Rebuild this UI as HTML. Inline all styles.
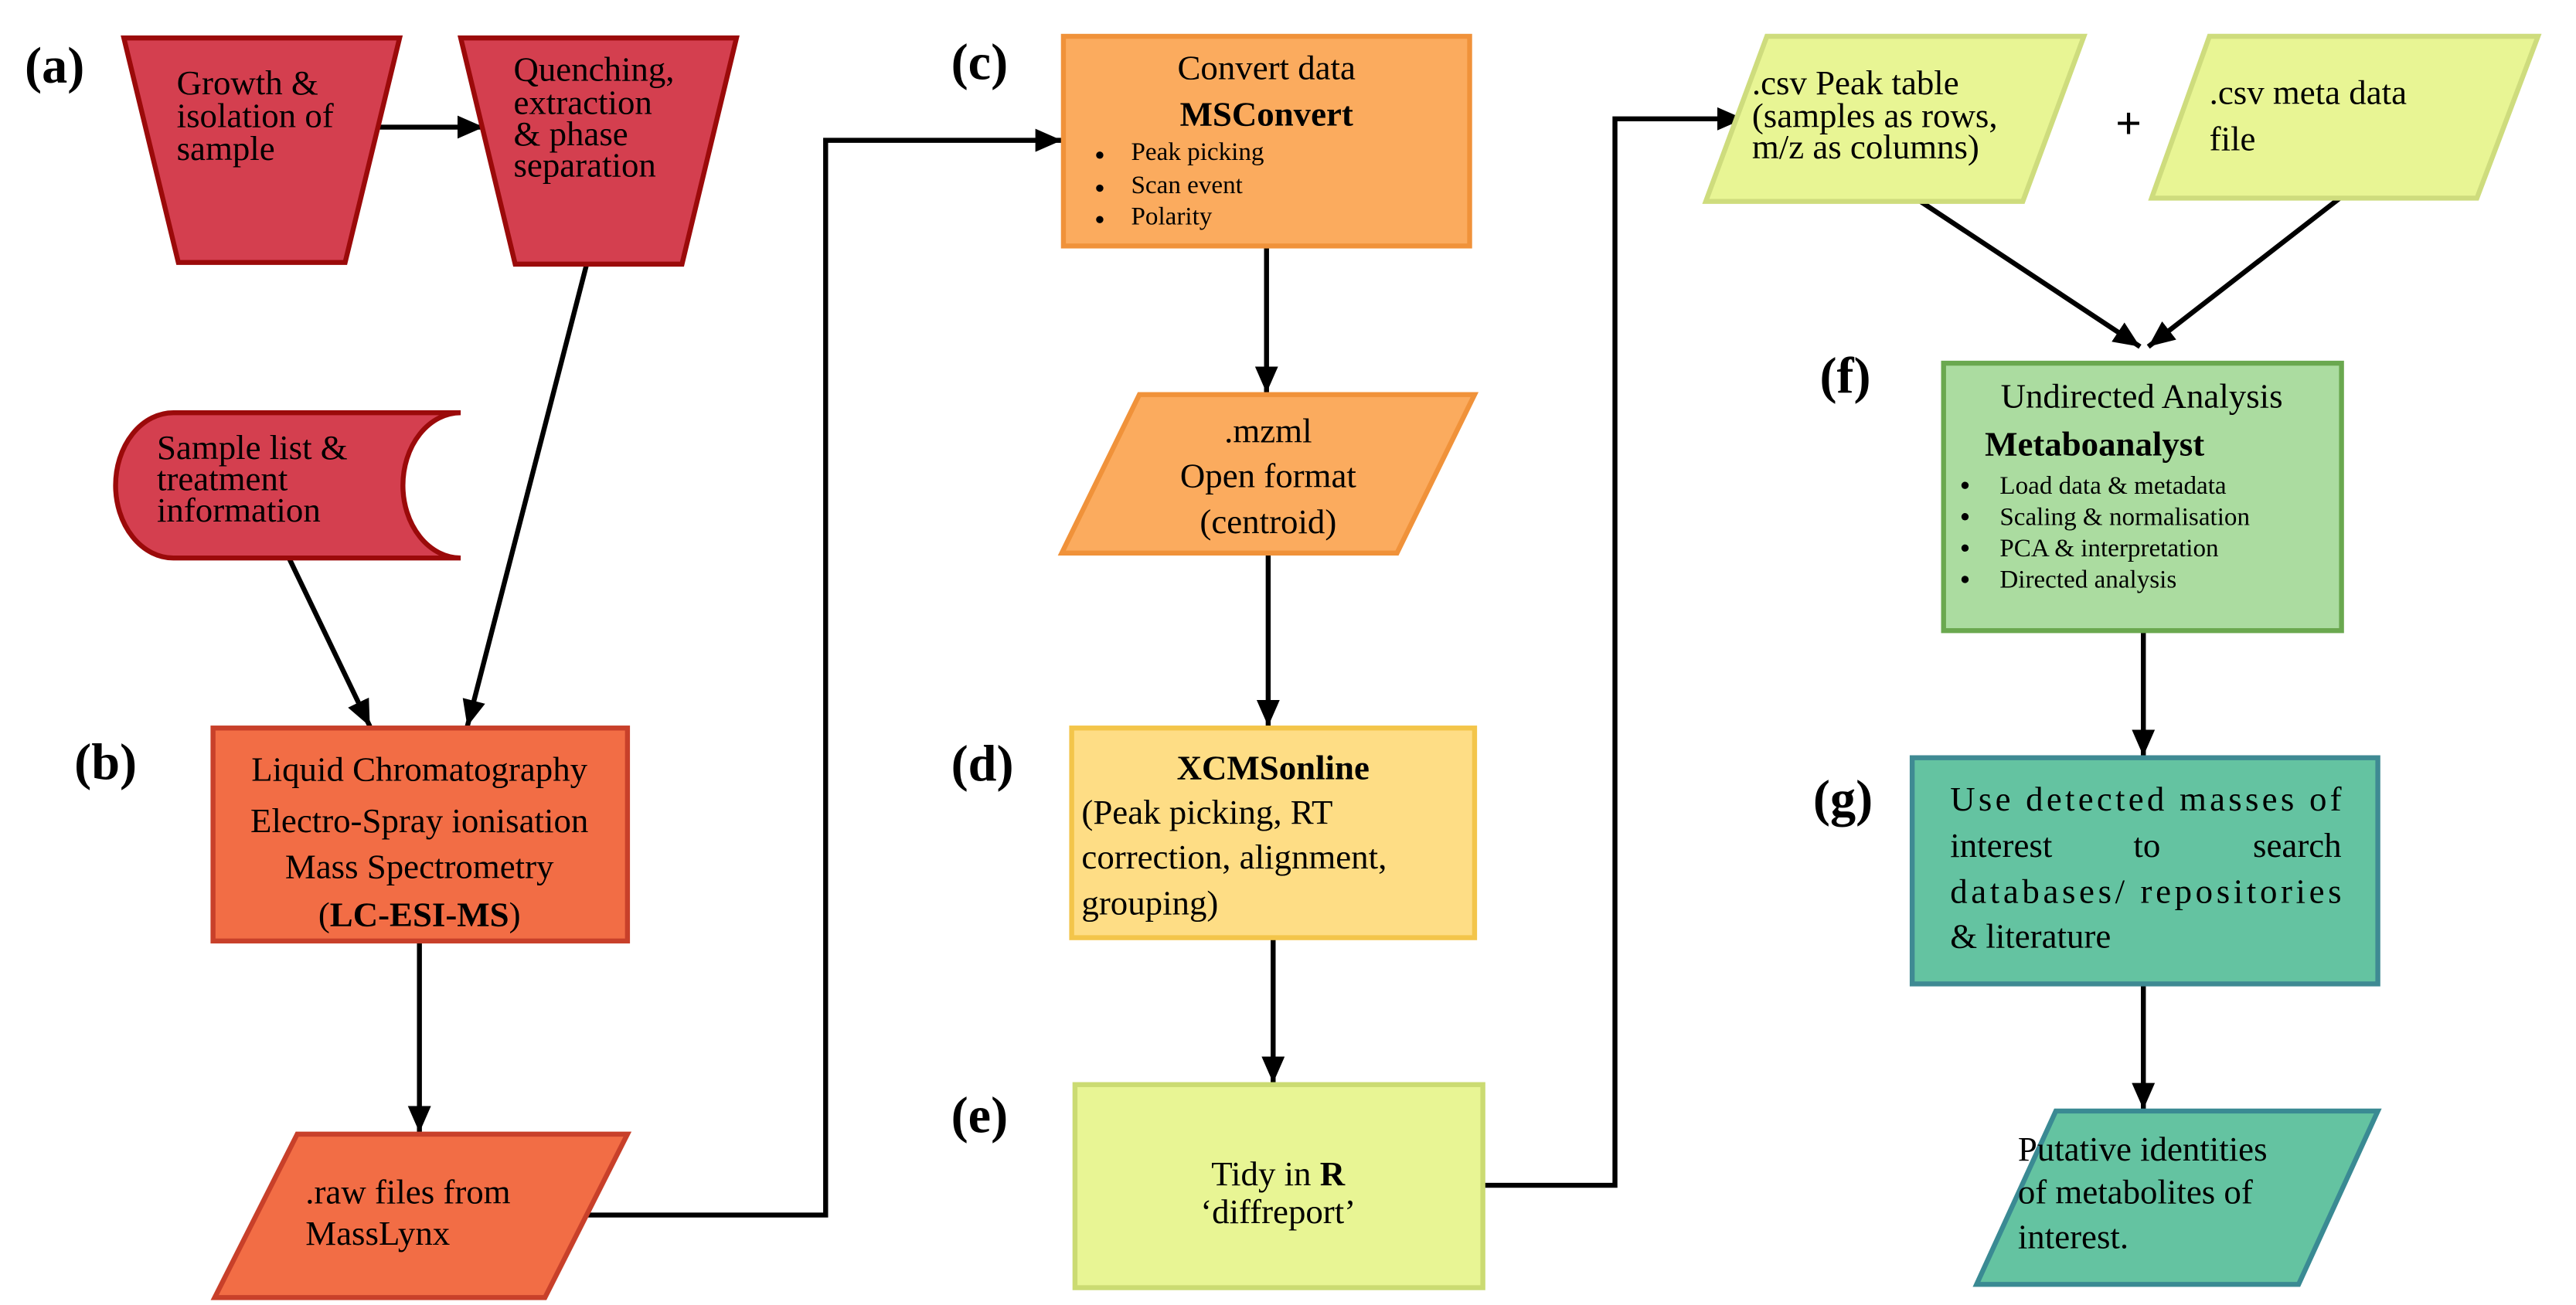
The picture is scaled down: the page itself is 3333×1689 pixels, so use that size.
<!DOCTYPE html>
<html><head><meta charset="utf-8"><style>
html,body{margin:0;padding:0;background:#fff;}
svg{display:block;}
text{font-family:"Liberation Serif",serif;fill:#000;}
.l{font-size:31px;font-weight:bold;}
.m{font-size:21px;}
.s{font-size:15.5px;}
.b{font-weight:bold;}
</style></head><body>
<svg width="3333" height="1689" viewBox="0 0 1560 790.5" preserveAspectRatio="none" xmlns="http://www.w3.org/2000/svg">
<defs>
<marker id="ah" viewBox="0 0 16 14" refX="16" refY="7" markerWidth="16" markerHeight="14" orient="auto" markerUnits="userSpaceOnUse">
<path d="M0,0 L16,7 L0,14 z" fill="#000"/>
</marker>
</defs>
<g stroke="#000" stroke-width="3" fill="none">
<line x1="227" y1="77" x2="293" y2="77" marker-end="url(#ah)"/>
<line x1="362" y1="134" x2="283" y2="440" marker-end="url(#ah)"/>
<line x1="175" y1="338" x2="224" y2="440" marker-end="url(#ah)"/>
<line x1="254" y1="570" x2="254" y2="686" marker-end="url(#ah)"/>
<polyline points="355,736 500,736 500,85 643,85" marker-end="url(#ah)"/>
<line x1="767" y1="149" x2="767" y2="238" marker-end="url(#ah)"/>
<line x1="768" y1="336" x2="768" y2="440" marker-end="url(#ah)"/>
<line x1="771" y1="568" x2="771" y2="656" marker-end="url(#ah)"/>
<polyline points="898,718 978,718 978,72 1056,72" marker-end="url(#ah)"/>
<line x1="1163" y1="122" x2="1296" y2="210" marker-end="url(#ah)"/>
<line x1="1417" y1="120" x2="1301" y2="210" marker-end="url(#ah)"/>
<line x1="1298" y1="382" x2="1298" y2="458" marker-end="url(#ah)"/>
<line x1="1298" y1="596" x2="1298" y2="672" marker-end="url(#ah)"/>
</g>
<!-- a -->
<text x="15" y="50" class="l">(a)</text>
<polygon points="75,23 242,23 209,159 108,159" fill="#d43f4f" stroke="#9b0a0a" stroke-width="3"/>
<text x="107" y="57" class="m">Growth &amp;</text>
<text x="107" y="77" class="m">isolation of</text>
<text x="107" y="97" class="m">sample</text>
<polygon points="279,23 446,23 413,160 312,160" fill="#d43f4f" stroke="#9b0a0a" stroke-width="3"/>
<text x="311" y="49" class="m">Quenching,</text>
<text x="311" y="69" class="m">extraction</text>
<text x="311" y="88" class="m">&amp; phase</text>
<text x="311" y="107" class="m">separation</text>
<path d="M279,250 L105,250 A35,44 0 0 0 105,338 L279,338 A35,44 0 0 1 279,250 Z" fill="#d43f4f" stroke="#9b0a0a" stroke-width="3"/>
<text x="95" y="278" class="m">Sample list &amp;</text>
<text x="95" y="297" class="m">treatment</text>
<text x="95" y="316" class="m">information</text>
<!-- b -->
<text x="45" y="472" class="l">(b)</text>
<rect x="129" y="441" width="251" height="129" fill="#f26d45" stroke="#c8402a" stroke-width="3"/>
<g text-anchor="middle">
<text x="254" y="473" class="m">Liquid Chromatography</text>
<text x="254" y="504" class="m">Electro-Spray ionisation</text>
<text x="254" y="532" class="m">Mass Spectrometry</text>
<text x="254" y="561" class="m">(<tspan class="b">LC-ESI-MS</tspan>)</text>
</g>
<polygon points="180,687 380,687 330,786 130,786" fill="#f26d45" stroke="#c8402a" stroke-width="3"/>
<text x="185" y="729" class="m">.raw files from</text>
<text x="185" y="754" class="m">MassLynx</text>
<!-- c -->
<text x="576" y="48" class="l">(c)</text>
<rect x="644" y="22" width="246" height="127" fill="#fbab5e" stroke="#f0923a" stroke-width="3"/>
<text x="767" y="48" class="m" text-anchor="middle">Convert data</text>
<text x="767" y="76" class="m b" text-anchor="middle">MSConvert</text>
<g class="s">
<circle cx="666" cy="94" r="2.2"/><text x="685" y="97">Peak picking</text>
<circle cx="666" cy="114" r="2.2"/><text x="685" y="117">Scan event</text>
<circle cx="666" cy="133" r="2.2"/><text x="685" y="136">Polarity</text>
</g>
<polygon points="690,239 893,239 846,335 643,335" fill="#fbab5e" stroke="#f0923a" stroke-width="3"/>
<g text-anchor="middle">
<text x="768" y="268" class="m">.mzml</text>
<text x="768" y="295" class="m">Open format</text>
<text x="768" y="323" class="m">(centroid)</text>
</g>
<!-- d -->
<text x="576" y="473" class="l">(d)</text>
<rect x="649" y="441" width="244" height="127" fill="#fedd85" stroke="#f3c54a" stroke-width="3"/>
<text x="771" y="472" class="m b" text-anchor="middle">XCMSonline</text>
<text x="655" y="499" class="m">(Peak picking, RT</text>
<text x="655" y="526" class="m">correction, alignment,</text>
<text x="655" y="554" class="m">grouping)</text>
<!-- e -->
<text x="576" y="686" class="l">(e)</text>
<rect x="651" y="657" width="247" height="123" fill="#e8f594" stroke="#cbdb72" stroke-width="3"/>
<text x="774" y="718" class="m" text-anchor="middle">Tidy in <tspan class="b">R</tspan></text>
<text x="774" y="741" class="m" text-anchor="middle">‘diffreport’</text>
<!-- csv -->
<polygon points="1070,22 1262,22 1225,122 1033,122" fill="#e8f594" stroke="#cedc7d" stroke-width="3"/>
<text x="1061" y="57" class="m">.csv Peak table</text>
<text x="1061" y="77" class="m">(samples as rows,</text>
<text x="1061" y="96" class="m">m/z as columns)</text>
<text x="1289" y="84" font-size="28" class="b" text-anchor="middle">+</text>
<polygon points="1338,22 1537,22 1500,120 1303,120" fill="#e8f594" stroke="#cedc7d" stroke-width="3"/>
<text x="1338" y="63" class="m">.csv meta data</text>
<text x="1338" y="91" class="m">file</text>
<!-- f -->
<text x="1102" y="238" class="l">(f)</text>
<rect x="1177" y="220" width="241" height="162" fill="#abdca0" stroke="#6aa84f" stroke-width="3"/>
<text x="1297" y="247" class="m" text-anchor="middle">Undirected Analysis</text>
<text x="1202" y="276" class="m b">Metaboanalyst</text>
<g class="s">
<circle cx="1190" cy="294" r="2.2"/><text x="1211" y="299">Load data &amp; metadata</text>
<circle cx="1190" cy="313" r="2.2"/><text x="1211" y="318">Scaling &amp; normalisation</text>
<circle cx="1190" cy="332" r="2.2"/><text x="1211" y="337">PCA &amp; interpretation</text>
<circle cx="1190" cy="351" r="2.2"/><text x="1211" y="356">Directed analysis</text>
</g>
<!-- g -->
<text x="1098" y="494" class="l">(g)</text>
<rect x="1158" y="459" width="282" height="137" fill="#64c3a1" stroke="#3f8a93" stroke-width="3"/>
<text x="1181" y="491" class="m" textLength="237" lengthAdjust="spacing">Use detected masses of</text>
<text x="1181" y="519" class="m">interest</text><text x="1292" y="519" class="m">to</text><text x="1418" y="519" class="m" text-anchor="end">search</text>
<text x="1181" y="547" class="m" textLength="237" lengthAdjust="spacing">databases/ repositories</text>
<text x="1181" y="574" class="m">&amp; literature</text>
<polygon points="1245,673 1440,673 1392,778 1197,778" fill="#64c3a1" stroke="#3a8a93" stroke-width="3"/>
<text x="1222" y="703" class="m">Putative identities</text>
<text x="1222" y="729" class="m">of metabolites of</text>
<text x="1222" y="756" class="m">interest.</text>
</svg>
</body></html>
